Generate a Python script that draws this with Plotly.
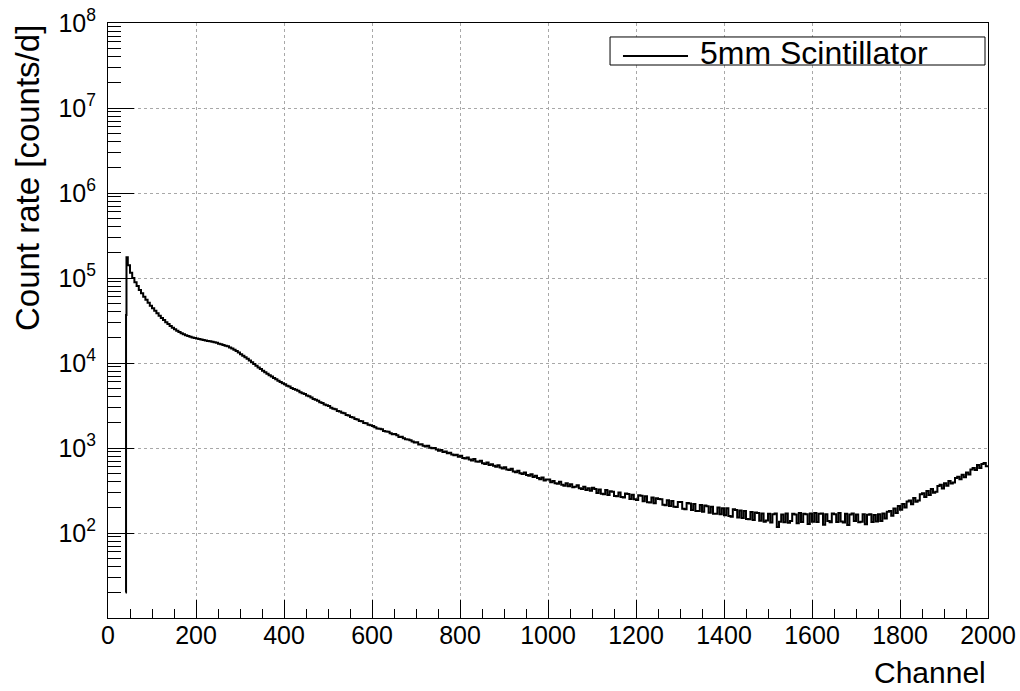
import plotly.graph_objects as go

# Histogram bin left edges (channels) and contents (counts/d)
first_edges = [40, 41, 42]
first_counts = [20, 36700, 176000]
bin_width = 5
last_edge = 2000

counts_045_095 = [141000, 115000, 100000, 89000, 80400, 72400, 66000, 60300, 55600, 51300, 47300]
counts_100_195 = [44200, 41200, 38500, 35900, 33900, 32000, 30200, 28800, 27200, 26000,
                  25000, 24000, 23200, 22400, 21800, 21200, 20800, 20400, 20000, 19700]
counts_200_295 = [19400, 19100, 18900, 18600, 18400, 18200, 18000, 17800, 17500, 17300,
                  16900, 16600, 16300, 16000, 15700, 15200, 14800, 14300, 13800, 13300]
counts_300_395 = [12700, 12200, 11700, 11200, 10700, 10200, 9730, 9290, 8870, 8490,
                  8130, 7780, 7450, 7180, 6920, 6670, 6430, 6190, 5970, 5770]
counts_400_495 = [5620, 5400, 5300, 5090, 4950, 4840, 4700, 4520, 4410, 4310,
                  4140, 4050, 3930, 3780, 3700, 3600, 3460, 3380, 3250, 3190]
counts_500_595 = [3110, 2970, 2900, 2860, 2730, 2690, 2590, 2560, 2450, 2420,
                  2310, 2290, 2190, 2160, 2080, 2060, 1970, 1950, 1880, 1850]
counts_600_695 = [1820, 1750, 1700, 1690, 1660, 1590, 1560, 1550, 1490, 1450,
                  1460, 1410, 1350, 1360, 1300, 1270, 1260, 1230, 1190, 1160]
counts_700_795 = [1170, 1100, 1110, 1060, 1040, 1060, 1010, 990, 1000, 960,
                  930, 950, 900, 910, 870, 880, 840, 820, 835, 790]
counts_800_895 = [810, 765, 750, 775, 730, 715, 740, 695, 690, 710,
                  660, 650, 675, 630, 645, 620, 600, 625, 590, 575]
counts_900_995 = [595, 560, 550, 570, 530, 520, 540, 505, 495, 515,
                  480, 470, 490, 455, 470, 445, 430, 450, 415, 425]
counts_1000_1095 = [425, 395, 410, 385, 380, 400, 370, 360, 385, 355,
                    375, 345, 350, 365, 335, 330, 350, 320, 335, 315]
counts_1100_1195 = [340, 330, 295, 325, 290, 285, 320, 280, 310, 305,
                    272, 270, 300, 265, 262, 292, 288, 252, 282, 250]
counts_1200_1295 = [245, 278, 275, 236, 270, 230, 228, 262, 224, 256,
                    252, 250, 215, 212, 243, 208, 238, 203, 202, 232]
counts_1300_1395 = [232, 193, 190, 226, 222, 186, 220, 182, 181, 214,
                    178, 210, 207, 173, 204, 169, 168, 199, 166, 196]
counts_1400_1495 = [162, 195, 158, 155, 190, 186, 152, 184, 150, 181,
                    146, 145, 177, 142, 174, 172, 139, 170, 136, 140]
counts_1500_1595 = [168, 133, 166, 170, 118, 136, 165, 134, 170, 132,
                    138, 168, 165, 130, 172, 135, 168, 166, 128, 170]
counts_1600_1695 = [136, 172, 135, 168, 170, 125, 166, 138, 134, 170,
                    166, 135, 172, 137, 133, 168, 124, 165, 170, 138]
counts_1700_1795 = [165, 134, 136, 166, 127, 164, 166, 135, 163, 137,
                    166, 138, 170, 148, 178, 182, 160, 194, 172, 208]
counts_1800_1895 = [188, 220, 200, 235, 242, 218, 258, 233, 241, 285,
                    293, 265, 311, 280, 329, 297, 305, 358, 369, 333]
counts_1900_1995 = [385, 360, 408, 382, 393, 445, 458, 428, 485, 452,
                    514, 487, 558, 582, 552, 632, 582, 648, 665, 610]

x_tick_values = [0, 200, 400, 600, 800, 1000, 1200, 1400, 1600, 1800, 2000]
y_tick_values = [1e2, 1e3, 1e4, 1e5, 1e6, 1e7, 1e8]
y_tick_text = ["10<sup>2</sup>", "10<sup>3</sup>", "10<sup>4</sup>", "10<sup>5</sup>",
               "10<sup>6</sup>", "10<sup>7</sup>", "10<sup>8</sup>"]
legend_label = "5mm Scintillator"
x_title = "Channel"
y_title = "Count rate [counts/d]"

regular_counts = (counts_045_095 + counts_100_195 + counts_200_295 + counts_300_395
                  + counts_400_495 + counts_500_595 + counts_600_695 + counts_700_795
                  + counts_800_895 + counts_900_995 + counts_1000_1095 + counts_1100_1195
                  + counts_1200_1295 + counts_1300_1395 + counts_1400_1495 + counts_1500_1595
                  + counts_1600_1695 + counts_1700_1795 + counts_1800_1895 + counts_1900_1995)
edges = first_edges + list(range(45, last_edge, bin_width))
counts = first_counts + regular_counts
x_step = edges + [last_edge]
y_step = counts + [counts[-1]]

FONT = "Liberation Sans, Arial, Helvetica, sans-serif"

fig = go.Figure()
fig.add_trace(go.Scatter(
    x=x_step, y=y_step, mode="lines", line=dict(shape="hv", color="black", width=2),
    name=legend_label, showlegend=False,
))

fig.update_layout(
    width=1020, height=691,
    margin=dict(l=108, r=32, t=23, b=73),
    paper_bgcolor="white", plot_bgcolor="white",
    font=dict(family=FONT, color="black", size=25),
)
fig.update_xaxes(
    range=[0, 2000], tickmode="array", tickvals=x_tick_values, automargin=False,
    ticks="inside", ticklen=18, tickwidth=1, tickcolor="black",
    minor=dict(ticks="inside", ticklen=9, tickcolor="black", dtick=50, tick0=0, showgrid=False),
    showgrid=True, gridcolor="#a8a8a8", gridwidth=1, griddash="dot",
    showline=True, linecolor="black", linewidth=1, mirror=True,
    tickfont=dict(size=25), zeroline=False, ticklabelstandoff=-5,
)
fig.update_yaxes(
    type="log", range=[1, 8], tickmode="array", tickvals=y_tick_values, ticktext=y_tick_text,
    automargin=False,
    ticks="inside", ticklen=26, tickwidth=1, tickcolor="black",
    minor=dict(ticks="inside", ticklen=13, tickcolor="black", dtick="D1", showgrid=False),
    showgrid=True, gridcolor="#a8a8a8", gridwidth=1, griddash="dot",
    showline=True, linecolor="black", linewidth=1, mirror=True,
    tickfont=dict(size=25), zeroline=False, ticklabelstandoff=6,
)

# Legend box (ROOT style)
fig.add_shape(type="rect", xref="paper", yref="paper", x0=0.5705, x1=0.9966, y0=0.9294, y1=0.9765,
              line=dict(color="black", width=1), fillcolor="white", layer="above")
fig.add_shape(type="line", xref="paper", yref="paper", x0=0.5852, x1=0.6591, y0=0.9445, y1=0.9445,
              line=dict(color="black", width=1.8), layer="above")
fig.add_annotation(text=legend_label, xref="paper", yref="paper", x=0.671, y=0.9495,
                   xanchor="left", yanchor="middle", showarrow=False, font=dict(size=32))

# Axis titles (right / top aligned as in ROOT)
fig.add_annotation(text=x_title, xref="paper", yref="paper", x=1.0, y=-0.092,
                   xanchor="right", yanchor="middle", showarrow=False, font=dict(size=30))
fig.add_annotation(text=y_title, xref="paper", yref="paper", x=-0.092, y=1.0,
                   xanchor="center", yanchor="top", textangle=-90, showarrow=False,
                   font=dict(size=33))

fig.write_html("out.html")
